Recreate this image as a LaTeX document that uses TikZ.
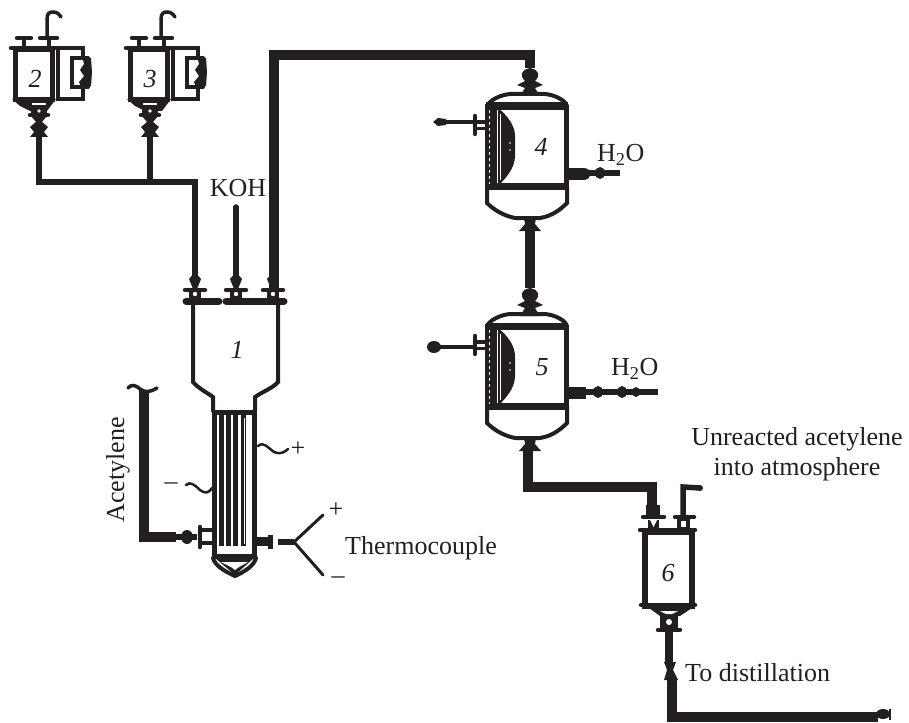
\documentclass[tikz,border=0pt]{standalone}
\usepackage{fontspec}
\setmainfont{Liberation Serif}
\usepackage{tikz}
\usetikzlibrary{shapes.geometric, positioning, calc}
\definecolor{inkBlack}{HTML}{231F20}

% nozzle on a plate: x, y of the plate top
\newcommand{\nozzleAt}[2]{
    \fill[inkBlack] (#1-6,#2) rectangle (#1+6,#2-10);
    \fill[white] (#1,#2-5) circle (2.2);
    \draw[flangeLine] (#1-10,#2-9) -- (#1+10,#2-9);
    \fill[inkBlack] (#1,#2-27) -- (#1+6,#2-20) -- (#1+2,#2-10) -- (#1-2,#2-10) -- (#1-6,#2-20) -- cycle;
}
% blob on a pipe running sideways
\newcommand{\blobAt}[3]{
    \fill[inkBlack] (#1,#2) ellipse (#3 and #3+1);
}
% small tank with its coil box: x offset, number, vent x, drain x
\newcommand{\smallTank}[4]{
    \begin{scope}[shift={(#1,0)}]
        \node[tankBody, line width=5pt, minimum width=37pt, minimum height=50pt] (tank#2) at (34,75) {};
        \node[numLabel] at (35,79) {#2};
        \fill[inkBlack] (12,99) -- (20,106) -- (30,111) -- (47,111) -- (56,99) -- cycle;
        \fill[white] (#4-7,103.5) rectangle (#4+7,105.5);
        \draw[tankWall] (54,48) -- (83,48) -- (83,57);
        \draw[tankWall] (58,48) -- (58,99) -- (83,99) -- (83,88);
        \draw[flangeLine] (11,48) -- (60,48);
        \draw[flangeLine] (17,38) -- (31,38);
        \draw[flangeLine] (40,38) -- (57,38);
        \draw[tankWall] (24,38) -- (24,45);
        \draw[tankWall] (49,38) -- (49,45);
        % coil box
        \draw[tankWall] (88,58) -- (72,58) -- (72,87) -- (88,87);
        \fill[inkBlack] (82,56) -- (91,58) -- (92,72) -- (91,86) -- (82,89) -- (79,82) -- (84,76) -- (80,70) -- (84,64) -- cycle;
        % vent
        \draw[thinPipe] (#3,36) -- (#3,19) .. controls (#3,13) and (#3+3,12) .. (#3+6,12) .. controls (#3+10,12) and (#3+12,14) .. (#3+14,17);
        % drain valve
        \fill[inkBlack] (#4-8,107) rectangle (#4+8,113);
        \fill[white] (#4,111) circle (1.8);
        \draw[flangeLine] (#4-9,115) -- (#4+9,115);
        \fill[inkBlack] (#4-8,116) -- (#4+8,116) -- (#4+3,122) -- (#4+9,127) -- (#4+5,132) -- (#4+9,137) -- (#4-9,137) -- (#4-5,132) -- (#4-9,127) -- (#4-3,122) -- cycle;
        \coordinate (drain#2) at (#4,137);
    \end{scope}
}
% vessel with cooling jacket: y offset, number, label x
\newcommand{\jacketVessel}[3]{
    \begin{scope}[shift={(0,#1)}]
        \node[tankBody, line width=5pt, minimum width=79pt, minimum height=80pt, anchor=north west] (vessel#2) at (485,105) {};
        \draw[plateLine] (486,106) -- (568,106);
        \draw[plateLine] (486,186) -- (568,186);
        % domes
        \draw[tankWall] (487,106) .. controls (490,100) and (500,95) .. (510,94) -- (545,94) .. controls (555,95) and (565,100) .. (567,106);
        \draw[tankWall] (487,186) -- (487,203) .. controls (495,211) and (505,216) .. (515,218) -- (540,218) .. controls (552,216) and (560,210) .. (567,203) -- (567,186);
        % jacket
        \fill[inkBlack] (485,104) rectangle (497,188);
        \draw[white, line width=0.9pt, dashed] (489.5,110) -- (489.5,184);
        \fill[inkBlack] (498,108) .. controls (508,116) and (515,126) .. (515,136) -- (515,156) .. controls (515,168) and (506,178) .. (498,186) -- cycle;
        \draw[white, line width=0.9pt] (500,114) -- (500,180);
        \fill[white] (510,143) circle (0.8);
        \fill[white] (510,150) circle (0.8);
        \node[numLabel] at (#3,147) {#2};
        \coordinate (vesselIn#2) at (530,68);
        \coordinate (vesselOut#2) at (530,226);
        % top valve
        \fill[inkBlack] (530,68) .. controls (520,70) and (520,76) .. (525,81) -- (517,85) -- (525,88) -- (520,96) -- (540,96) -- (535,88) -- (543,85) -- (535,81) .. controls (540,76) and (540,70) .. (530,68);
        % bottom valve
        \fill[inkBlack] (524,218) -- (536,218) -- (535,224) -- (541,231) -- (519,231) -- (525,224) -- cycle;
        % side outlet on the left
        \draw[flangeLine] (475,116) -- (475,134);
        \fill[inkBlack] (475,120) rectangle (485,124);
        \fill[inkBlack] (475,127) rectangle (485,130);
    \end{scope}
}

\begin{document}
\begin{tikzpicture}[
    x=1pt, y=-1pt,
    tankBody/.style={
        rectangle,
        draw=inkBlack,
        fill=white,
        line width=4.5pt,
        inner sep=0pt
    },
    tankWall/.style={
        draw=inkBlack,
        line width=4pt,
        line cap=round
    },
    plateLine/.style={
        draw=inkBlack,
        line width=7pt
    },
    flangeLine/.style={
        draw=inkBlack,
        line width=4.5pt,
        line cap=round
    },
    thinPipe/.style={
        draw=inkBlack,
        line width=3.5pt,
        line cap=round
    },
    tubeLine/.style={
        draw=inkBlack,
        line width=5pt
    },
    leadLine/.style={
        draw=inkBlack,
        line width=2.5pt,
        line cap=round
    },
    midPipe/.style={
        draw=inkBlack,
        line width=5.5pt,
        line join=miter
    },
    fatPipe/.style={
        draw=inkBlack,
        line width=9.5pt,
        line join=miter
    },
    numLabel/.style={
        font=\fontsize{26}{30}\selectfont\itshape,
        text=inkBlack,
        inner sep=0pt
    },
    plainLabel/.style={
        font=\fontsize{26}{30}\selectfont,
        text=inkBlack,
        inner sep=0pt
    }
]
\useasboundingbox (0,0) rectangle (909,722);

% Tanks 2 and 3
\smallTank{0}{2}{47}{39}
\smallTank{115}{3}{46}{35}

% Feed line from the tanks
\coordinate (feedLeft) at (39,182);
\coordinate (feedMid) at (150,182);
\coordinate (feedIn) at (195,276);
\draw[midPipe] (drain2) -- (feedLeft);
\draw[midPipe] (drain3) -- (feedMid);
\draw[midPipe] ([xshift=-3pt]feedLeft) -- (feedIn |- feedLeft) -- (feedIn);

% Reactor 1
\draw[tankWall] (193,300) -- (193,382) .. controls (198,388) and (206,392) .. (213,397) -- (213,411);
\draw[tankWall] (278,300) -- (278,382) .. controls (273,388) and (262,392) .. (255,397) -- (255,411);
\draw[plateLine, line cap=round] (186,301) -- (219,301);
\draw[plateLine, line cap=round] (226,301) -- (284,301);
\nozzleAt{195}{299}
\nozzleAt{236}{299}
\nozzleAt{273}{299}
\node[numLabel] (reactor1) at (237,350) {1};

% Lower tube of the reactor
\node[tankBody, minimum width=40pt, minimum height=144pt, anchor=north west] (tube1) at (212,410) {};
\foreach \tubeX in {221,228.5,235.5,243}
    \draw[tubeLine] (\tubeX,415) -- (\tubeX,546);
\draw[white, line width=1pt] (244,418) -- (244,544);
\draw[tankWall] (213,558) .. controls (215,566) and (226,572) .. (235,576) .. controls (244,572) and (254,566) .. (256,558);
\fill[inkBlack] (215,558) -- (254,558) -- (235,575) -- cycle;
\fill[white] (221,562) -- (248,562) -- (239,567) -- (235,570) -- (231,567) -- cycle;

% KOH
\coordinate (kohTop) at (236,207);
\coordinate (kohIn) at (236,276);
\draw[midPipe, line cap=round] (kohTop) -- (kohIn);
\node[plainLabel] (kohLabel) at (238,188) {KOH};

% Main gas line to vessel 4
\jacketVessel{0}{4}{541}
\jacketVessel{220}{5}{542}
\coordinate (reactorOut) at (274,288);
\draw[fatPipe] (reactorOut) -- (274,55) -- (530,55) -- (vesselIn4);
\draw[fatPipe] (vesselOut4) -- (vesselIn5);

% Vessel 5 outlet to vessel 6
\coordinate (sepIn) at (652,505);
\draw[fatPipe] (528,448) -- (528,487) -- (652,487) -- (sepIn);

% Left outlets
\coordinate (leftEnd4) at (436,122);
\coordinate (leftEnd5) at (434,347);
\draw[midPipe, line width=4pt] (leftEnd4) -- (475,122);
\draw[midPipe, line width=4.5pt] (leftEnd5) -- (475,347);
\fill[inkBlack] (leftEnd4) ++(-3,0) -- ++(5,-4) -- ++(8,1) -- ++(0,6) -- ++(-8,1) -- cycle;
\fill[inkBlack] (leftEnd5) ellipse (7 and 6);

% Water outlets
\coordinate (waterStart4) at (568,173);
\coordinate (waterEnd4) at (620,173);
\coordinate (waterStart5) at (568,392);
\coordinate (waterEnd5) at (658,392);
\draw[midPipe] (waterStart4) -- (waterEnd4);
\draw[midPipe] (waterStart5) -- (waterEnd5);
\fill[inkBlack] (568,168) rectangle (584,180);
\fill[inkBlack] (568,387) rectangle (586,399);
\blobAt{585}{174}{5}
\blobAt{600}{173}{5}
\blobAt{598}{392}{5}
\blobAt{622}{392}{5}
\blobAt{636}{392}{4}
\node[plainLabel, anchor=west] (waterLabel4) at (597,155) {H\textsubscript{2}O};
\node[plainLabel, anchor=west] (waterLabel5) at (611,369) {H\textsubscript{2}O};

% Acetylene feed
\coordinate (acetTop) at (144,390);
\coordinate (acetBend) at (144,537);
\coordinate (acetEnd) at (176,537);
\draw[fatPipe] (acetTop) -- (acetBend) -- (acetEnd);
\draw[midPipe] (acetEnd) -- (197,537);
\blobAt{187}{537}{6}
\draw[flangeLine] (200,527) -- (200,547);
\draw[tankWall] (200,530) -- (213,530);
\draw[tankWall] (200,543) -- (213,543);
\draw[thinPipe] (128,388) .. controls (131,384) and (136,385) .. (140,389) .. controls (145,393) and (151,392) .. (157,388);
\node[plainLabel, rotate=90] (acetLabel) at (118,470) {Acetylene};

% Jacket leads
\draw[leadLine] (258,446) .. controls (264,441) and (268,448) .. (274,452) .. controls (280,455) and (285,452) .. (288,449);
\draw[leadLine] (186,485) .. controls (190,481) and (195,485) .. (200,490) .. controls (205,494) and (209,493) .. (212,488);
\node[plainLabel] (plusLabel) at (298,449) {+};
\node[plainLabel] (minusLabel) at (171,486) {--};

% Thermocouple
\coordinate (tcFork) at (294,542);
\coordinate (tcPlus) at (323,515);
\coordinate (tcMinus) at (323,575);
\fill[inkBlack] (255,537) rectangle (270,546);
\fill[inkBlack] (268,535) rectangle (273,549);
\draw[midPipe] (278,542) -- (tcFork);
\draw[leadLine, line width=3pt] (tcFork) -- (tcPlus);
\draw[leadLine, line width=3pt] (tcFork) -- (tcMinus);
\node[plainLabel] (tcPlusLabel) at (336,510) {+};
\node[plainLabel] (tcMinusLabel) at (338,580) {--};
\node[plainLabel, anchor=west] (tcLabel) at (345,548) {Thermocouple};

% Separator 6
\node[tankBody, line width=6pt, minimum width=47pt, minimum height=74pt, anchor=north west] (sep6) at (642,529) {};
\node[numLabel] at (668,573) {6};
\draw[flangeLine] (640,530) -- (695,530);
\draw[flangeLine] (641,605) -- (695,605);
\fill[inkBlack] (649,608) -- (692,608) -- (680,616) -- (660,616) -- cycle;
\fill[white] (660,611) -- (678,611) -- (672,614) -- (666,614) -- cycle;
\fill[inkBlack] (660,616) rectangle (678,630);
\fill[white] (669,622) circle (3);
\draw[flangeLine] (658,630) -- (680,630);
% inlet and vent nozzles
\fill[inkBlack] (648,520) rectangle (659,530);
\fill[white] (650,520) -- (657,520) -- (653.5,527) -- cycle;
\draw[flangeLine] (643,517) -- (664,517);
\fill[inkBlack] (646,505) rectangle (660,516);
\fill[inkBlack] (677,518) rectangle (690,530);
\fill[white] (681,521) rectangle (686,527);
\draw[flangeLine] (675,517) -- (694,517);
\coordinate (ventBase) at (683,515);
\coordinate (ventTip) at (700,488);
\draw[midPipe] (ventBase) -- (683,487) -- (ventTip);
\fill[inkBlack] (ventTip) circle (3);
\node[plainLabel, align=center] (ventLabel) at (797,454) {Unreacted acetylene\\into atmosphere};

% To distillation
\coordinate (distOut) at (669,632);
\coordinate (distValve) at (669,664);
\coordinate (distBend) at (672,717);
\coordinate (distEnd) at (878,717);
\draw[midPipe, line width=8pt] (distOut) -- (distValve);
\draw[fatPipe] (672,678) -- (distBend) -- (distEnd);
\fill[inkBlack] (664,662) -- (676,662) -- (673,670) -- (678,680) -- (664,680) -- (667,670) -- cycle;
\fill[inkBlack] (883,714) ellipse (7 and 5);
\draw[inkBlack, line width=1.5pt] (890,709) -- (890,720);
\node[plainLabel, anchor=west] (distLabel) at (685,673) {To distillation};

\end{tikzpicture}
\end{document}
